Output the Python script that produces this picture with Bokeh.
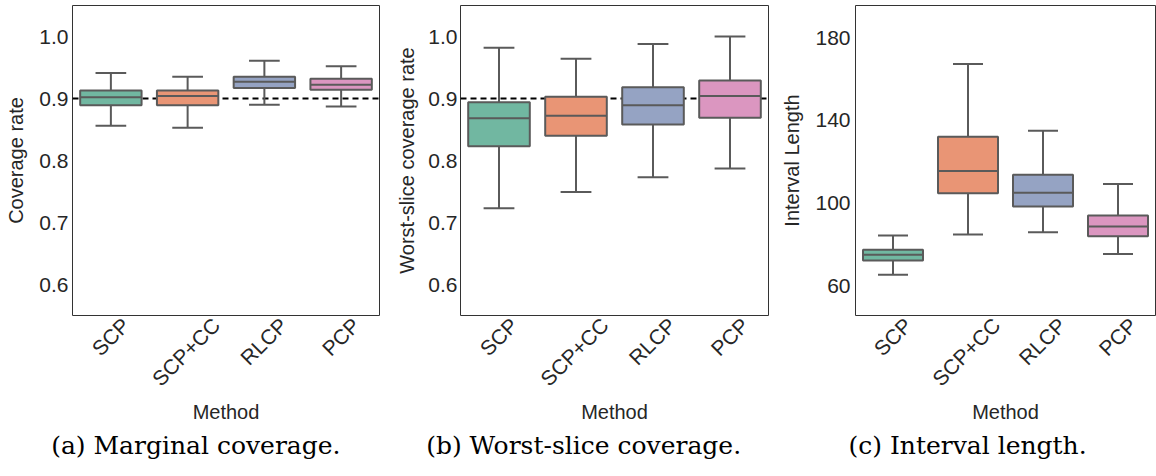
import math
from bokeh.plotting import figure
from bokeh.models import (FactorRange, Range1d, FixedTicker, Span, Title, LinearAxis,
                          ColumnDataSource, PrintfTickFormatter, CustomJSTickFormatter)
from bokeh.layouts import row
from bokeh.embed import file_html
from bokeh.resources import INLINE

# ---------------- data ----------------
methods = ["SCP", "SCP+CC", "RLCP", "PCP"]
box_colors = ["#71b7a1", "#e99575", "#95a3c3", "#db96c0"]

# (a) marginal coverage
marg_low = [0.856, 0.853, 0.890, 0.887]
marg_q1 = [0.889, 0.889, 0.917, 0.914]
marg_med = [0.902, 0.904, 0.927, 0.922]
marg_q3 = [0.913, 0.913, 0.935, 0.932]
marg_high = [0.941, 0.935, 0.961, 0.952]

# (b) worst-slice coverage
wsc_low = [0.723, 0.749, 0.773, 0.787]
wsc_q1 = [0.823, 0.840, 0.858, 0.869]
wsc_med = [0.868, 0.872, 0.889, 0.904]
wsc_q3 = [0.894, 0.903, 0.918, 0.929]
wsc_high = [0.982, 0.964, 0.988, 1.000]

# (c) interval length
len_low = [65.2, 84.7, 85.8, 75.3]
len_q1 = [72.1, 104.6, 98.3, 83.9]
len_med = [74.9, 115.4, 104.9, 88.6]
len_q3 = [77.3, 132.0, 113.6, 93.9]
len_high = [84.2, 167.2, 134.9, 109.1]

cov_ticks = [0.6, 0.7, 0.8, 0.9, 1.0]
len_ticks = [60, 100, 140, 180]
target_level = 0.9

# ---------------- style ----------------
SANS = "Liberation Sans"
SERIF = "DejaVu Serif"
TEXT_COLOR = "#262626"
EDGE = "#5a5a5a"
TICK_FS = 21
CAP_FS = 25
ARIAL_W = {"S": 0.667, "C": 0.722, "P": 0.667, "+": 0.584, "R": 0.722, "L": 0.556}
# rough DejaVu Serif advance widths (em) for centring captions on their sub-figure
SERIF_W = {"(": .39, ")": .39, " ": .318, ".": .318, "-": .338, "a": .596, "b": .64,
           "c": .56, "e": .592, "g": .64, "h": .644, "i": .32, "l": .32, "n": .644,
           "o": .602, "r": .478, "s": .513, "t": .402, "v": .565, "M": .998,
           "W": 1.03, "I": .47}

FIG_H = 476
TOP = 5
FRAME_H = 310


def panel(width, left, right, ymin, ymax, ticks, ylabel, caption, fmt,
          low, q1, med, q3, high, hline=None, standoff=4, label_standoff=10):
    frame_w = width - left - right
    n = len(methods)
    p = figure(width=width, height=FIG_H, x_range=FactorRange(*methods),
               y_range=Range1d(ymin, ymax), output_backend="svg",
               toolbar_location=None, min_border_left=left, min_border_right=right,
               min_border_top=TOP, min_border_bottom=FIG_H - TOP - FRAME_H,
               x_axis_location=None)
    p.xgrid.visible = False
    p.ygrid.visible = False
    p.outline_line_color = "#333333"
    p.outline_line_width = 1
    p.background_fill_color = "white"
    p.border_fill_color = "white"

    ax = p.yaxis[0]
    ax.ticker = FixedTicker(ticks=ticks)
    ax.formatter = PrintfTickFormatter(format=fmt)
    ax.axis_line_color = None
    ax.major_tick_line_color = None
    ax.minor_tick_line_color = None
    ax.major_tick_in = 0
    ax.major_tick_out = 0
    ax.major_label_standoff = standoff
    ax.major_label_text_font = SANS
    ax.major_label_text_font_size = f"{TICK_FS}px"
    ax.major_label_text_color = TEXT_COLOR
    ax.axis_label = ylabel
    ax.axis_label_text_font = SANS
    ax.axis_label_text_font_size = "20px"
    ax.axis_label_text_font_style = "normal"
    ax.axis_label_text_color = TEXT_COLOR
    ax.axis_label_standoff = label_standoff

    # Category axis: bokeh anchors 45-degree labels by their end, matplotlib centres
    # them on the tick, so each tick (synthetic category coordinate) is nudged right
    # by half the label's slanted extent.
    cap_h = 0.716 * TICK_FS
    pos = []
    for i, m in enumerate(methods):
        w = 0.9 * sum(ARIAL_W.get(c, 0.6) for c in m) * TICK_FS
        ink = (w + cap_h) / math.sqrt(2)
        shift_px = ink / 2 - 4
        pos.append(i + 0.5 + shift_px / frame_w * n)
    xa = LinearAxis(ticker=FixedTicker(ticks=pos),
                    formatter=CustomJSTickFormatter(args=dict(names=methods),
                                                    code="return names[index];"))
    xa.axis_line_color = None
    xa.major_tick_line_color = None
    xa.minor_tick_line_color = None
    xa.major_tick_in = 0
    xa.major_tick_out = 0
    xa.major_label_orientation = math.pi / 4
    xa.major_label_standoff = 6
    xa.major_label_text_font = SANS
    xa.major_label_text_font_size = f"{TICK_FS}px"
    xa.major_label_text_color = TEXT_COLOR
    xa.axis_label = "Method"
    xa.axis_label_text_font = SANS
    xa.axis_label_text_font_size = "20px"
    xa.axis_label_text_font_style = "normal"
    xa.axis_label_text_color = TEXT_COLOR
    xa.axis_label_standoff = 0
    p.add_layout(xa, "below")

    if hline is not None:
        p.add_layout(Span(location=hline, dimension="width", line_color="black",
                          line_width=2, line_dash="6 4", level="underlay"))

    src = ColumnDataSource(dict(
        m=methods, low=low, q1=q1, med=med, q3=q3, high=high, color=box_colors,
        cl=[(m, -0.2) for m in methods], cr=[(m, 0.2) for m in methods],
        bl=[(m, -0.4) for m in methods], br=[(m, 0.4) for m in methods],
    ))
    # whiskers
    p.segment(x0="m", y0="q3", x1="m", y1="high", source=src, line_color=EDGE, line_width=2)
    p.segment(x0="m", y0="low", x1="m", y1="q1", source=src, line_color=EDGE, line_width=2)
    # caps
    p.segment(x0="cl", y0="high", x1="cr", y1="high", source=src, line_color=EDGE, line_width=2)
    p.segment(x0="cl", y0="low", x1="cr", y1="low", source=src, line_color=EDGE, line_width=2)
    # boxes
    p.vbar(x="m", top="q3", bottom="q1", width=0.8, source=src, fill_color="color",
           line_color=EDGE, line_width=2)
    # medians
    p.segment(x0="bl", y0="med", x1="br", y1="med", source=src, line_color=EDGE, line_width=2)

    # sub-figure caption, centred on the whole sub-figure (not just the frame)
    est_w = sum(SERIF_W.get(c, 0.6) for c in caption) * CAP_FS
    offset = width / 2 - left - est_w / 2
    p.add_layout(Title(text=caption, align="left", offset=offset,
                       text_font=SERIF, text_font_size=f"{CAP_FS}px",
                       text_font_style="normal", text_color="black",
                       standoff=4), "below")
    return p


p1 = panel(390, 72, 11, 0.55, 1.05, cov_ticks, "Coverage rate", "(a) Marginal coverage.",
           "%.1f", marg_low, marg_q1, marg_med, marg_q3, marg_high, hline=target_level,
           standoff=4, label_standoff=9)
p2 = panel(388, 70, 10, 0.55, 1.05, cov_ticks, "Worst-slice coverage rate",
           "(b) Worst-slice coverage.", "%.1f",
           wsc_low, wsc_q1, wsc_med, wsc_q3, wsc_high, hline=target_level,
           standoff=3, label_standoff=7)
p3 = panel(378, 76, 1, 45.5, 195.5, len_ticks, "Interval Length", "(c) Interval length.",
           "%d", len_low, len_q1, len_med, len_q3, len_high, hline=None,
           standoff=5, label_standoff=9)

layout = row(p1, p2, p3)
open("out.html", "w").write(file_html(layout, INLINE))
